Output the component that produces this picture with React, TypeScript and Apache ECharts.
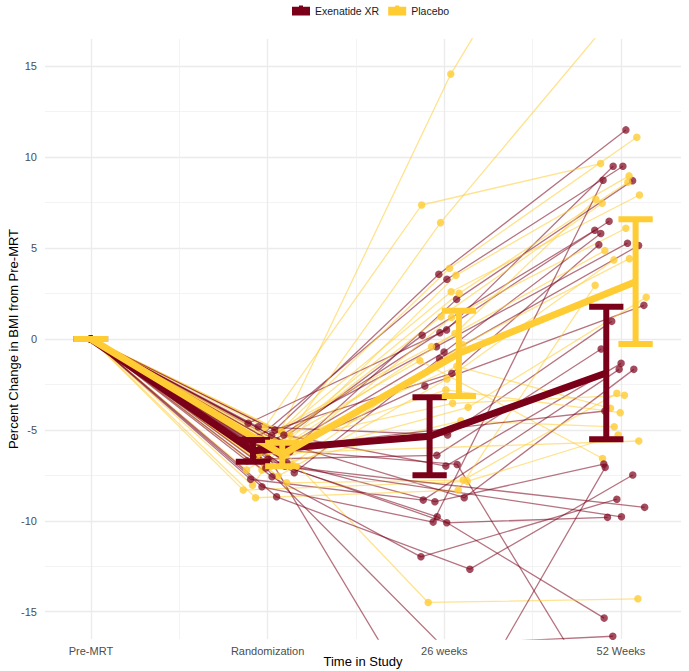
import React, { useEffect, useRef } from "react";
import * as echarts from "echarts";

const FONT = "'Liberation Sans', Arial, Helvetica, sans-serif";
const MAROON = "#7A0019";
const GOLD = "#FFCC33";

const timeLabels = ["Pre-MRT", "Randomization", "26 weeks", "52 Weeks"];
const timePositions = [1, 2, 3, 4];
const minorXPositions = [1.5, 2.5, 3.5];
const yTickValues = [-15, -10, -5, 0, 5, 10, 15];
const yMinorValues = [-12.5, -7.5, -2.5, 2.5, 7.5, 12.5];

// Exenatide XR — individual participants (percent change from Pre-MRT)
const exenRand = [-5.0, -5.8, -6.2, -4.64, -5.9, -6.5, -5.3, -6.0, -7.36, -5.5, -6.3, -4.83, -6.6, -5.28, -6.0, -7.72, -6.8, -5.6, -6.93, -8.13, -6.4, -7.58, -8.68, -7.1, -6.1, -5.9, -7.0, -6.7];
const exenW26 = [3.56, 3.29, 2.18, 0.5, 0.35, 0.2, -0.42, -0.72, -1.08, -1.89, -2.59, -5.28, -6.4, -6.99, -6.9, -8.86, -8.95, -8.73, -9.78, -10.07, -10.11, -11.98, -12.66, -16.8, -22.5, null, null, null];
const exenW52 = [11.5, 9.5, 8.71, 9.5, 6.48, 5.98, 5.27, 5.8, 5.14, 5.19, 1.85, 0.97, -0.55, -1.34, -21.6, -1.67, -6.88, -1.67, -15.35, 8.73, -9.81, -8.81, -7.48, -16.35, -7.06, -3.96, -9.26, -9.78];
// horizontal jitter (axis units) of each participant's point at each visit
const exenRandJitter = [0.041, -0.1, 0.126, -0.11, -0.015, -0.055, 0.023, 0.087, 0.151, -0.128, 0.064, -0.053, 0.002, 0.092, -0.038, -0.096, 0.109, 0.053, 0.07, -0.032, -0.078, 0.025, 0.051, -0.01, -0.018, 0.138, 0.098, -0.117];
const exenW26Jitter = [-0.031, 0.015, 0.07, 0.013, -0.025, -0.125, -0.044, -0.001, -0.027, 0.043, -0.11, 0.019, -0.042, 0.009, 0.073, -0.119, -0.053, 0.113, -0.04, -0.063, 0.014, -0.132, 0.145, -0.02, -0.005, 0, 0, 0];
const exenW52Jitter = [0.028, 0.011, 0.066, -0.044, -0.067, -0.148, 0.037, -0.114, 0.1, -0.125, 0.13, -0.052, -0.112, 0.001, -0.006, -0.01, -0.097, 0.073, -0.095, -0.101, -0.076, -0.023, 0.067, -0.046, -0.089, -0.091, 0.134, 0.003];

// Placebo — individual participants
const placRand = [-7.2, -4.85, -8.04, -5.6, -6.1, -5.1, -6.6, -5.9, -6.4, -7.21, -5.5, -6.9, -5.3, -6.2, -7.54, -6.0, -6.8, -7.91, -8.31, -8.73, -5.65, -5.8, -7.0, -6.3];
const placW26 = [14.57, 7.37, 6.4, 3.89, 3.5, 2.6, 2.51, 1.23, 1.19, 0.3, -0.42, -0.31, -1.19, -1.5, -2.2, -3.54, -3.76, -7.76, -7.83, -8.31, -14.49, -2.8, -4.5, null];
const placW52 = [30, 9.65, 18.5, 11.1, 8.97, 7.92, 8.62, 7.47, 6.09, 7.69, 4.86, 4.42, -6.57, -3.81, 4.35, -3.1, 2.29, -2.99, -5.28, 2.95, -14.29, -4.05, -4.83, -5.61];
const placRandJitter = [-0.032, -0.015, -0.085, 0.013, 0.07, 0.079, -0.061, 0.03, 0.104, -0.119, -0.044, 0.132, 0.126, 0.002, 0.06, -0.1, -0.021, 0.108, -0.138, -0.068, 0.041, 0.092, 0.016, -0.049];
const placW26Jitter = [0.037, -0.128, -0.021, 0.03, 0.066, 0.039, 0.084, -0.019, 0.041, 0.06, -0.072, 0.105, -0.138, 0.071, 0.015, 0.047, 0.135, 0.107, 0.13, 0.079, -0.091, 0.009, 0.094, 0];
const placW52Jitter = [-0.006, -0.115, 0.022, 0.09, 0.046, 0.105, 0.039, -0.106, 0.028, -0.142, -0.091, 0.048, -0.104, -0.059, -0.04, 0.02, 0.143, -0.023, -0.016, -0.146, 0.096, -0.004, -0.038, 0.101];

// Group means and error bars per visit
const exenMean = [0, -6.15, -5.35, -1.87];
const exenLower = [0, -6.75, -7.5, -5.52];
const exenUpper = [0, -5.55, -3.2, 1.77];
const placMean = [0, -6.35, -0.79, 3.15];
const placLower = [0, -7.0, -3.14, -0.28];
const placUpper = [0, -5.7, 1.56, 6.59];

const DODGE = 0.083;
const CAP_HALF = 0.097;

function dodged(i: number, sign: number) {
  return timePositions[i] + (i === 0 ? 0 : sign * DODGE);
}

function subjectSeries(
  name: string,
  color: string,
  rand: (number | null)[],
  w26: (number | null)[],
  w52: (number | null)[],
  jr: number[],
  j26: number[],
  j52: number[],
  lineOpacity: number,
  pointOpacity: number
) {
  return rand.map((r, i) => {
    const pts: number[][] = [[timePositions[0], 0]];
    if (r != null) pts.push([timePositions[1] + jr[i], r]);
    if (w26[i] != null) pts.push([timePositions[2] + j26[i], w26[i] as number]);
    if (w52[i] != null) pts.push([timePositions[3] + j52[i], w52[i] as number]);
    return {
      type: "line",
      name,
      data: pts,
      xAxisIndex: 0,
      yAxisIndex: 0,
      symbol: "circle",
      symbolSize: 7.5,
      showSymbol: true,
      clip: true,
      silent: true,
      z: 2,
      lineStyle: { color, width: 1.3, opacity: lineOpacity },
      itemStyle: { color, opacity: pointOpacity, borderWidth: 0 },
      emphasis: { disabled: true },
    };
  });
}

function errorBarSeries(name: string, color: string, lower: number[], upper: number[], sign: number) {
  return {
    type: "custom",
    name,
    xAxisIndex: 0,
    yAxisIndex: 0,
    silent: true,
    z: 6,
    data: lower.map((lo, i) => [dodged(i, sign), lo, upper[i]]),
    encode: { x: 0, y: [1, 2] },
    renderItem: (params: any, api: any) => {
      const x = api.value(0);
      const lo = api.value(1);
      const hi = api.value(2);
      const pLo = api.coord([x, lo]);
      const pHi = api.coord([x, hi]);
      const lL = api.coord([x - CAP_HALF, lo]);
      const lR = api.coord([x + CAP_HALF, lo]);
      const hL = api.coord([x - CAP_HALF, hi]);
      const hR = api.coord([x + CAP_HALF, hi]);
      const style = { stroke: color, lineWidth: 6, fill: null };
      return {
        type: "group",
        children: [
          { type: "line", shape: { x1: pLo[0], y1: pLo[1], x2: pHi[0], y2: pHi[1] }, style },
          { type: "line", shape: { x1: lL[0], y1: lL[1], x2: lR[0], y2: lR[1] }, style },
          { type: "line", shape: { x1: hL[0], y1: hL[1], x2: hR[0], y2: hR[1] }, style },
        ],
      };
    },
  };
}

function meanSeries(name: string, color: string, mean: number[], sign: number) {
  return {
    type: "line",
    name,
    xAxisIndex: 0,
    yAxisIndex: 0,
    data: mean.map((m, i) => [dodged(i, sign), m]),
    symbol: "none",
    silent: true,
    z: 5,
    lineStyle: { color, width: 7, cap: "butt", join: "miter" },
    itemStyle: { color },
    emphasis: { disabled: true },
  };
}

const LEGEND_ICON = "path://M0,1.2H7V0H11V1.2H18V10H0Z";

function buildOption() {
  const exenInd = subjectSeries("Exenatide XR", MAROON, exenRand, exenW26, exenW52, exenRandJitter, exenW26Jitter, exenW52Jitter, 0.55, 0.7);
  const placInd = subjectSeries("Placebo", GOLD, placRand, placW26, placW52, placRandJitter, placW26Jitter, placW52Jitter, 0.55, 0.8);
  const individuals: any[] = [];
  const n = Math.max(exenInd.length, placInd.length);
  for (let i = 0; i < n; i++) {
    if (exenInd[i]) individuals.push(exenInd[i]);
    if (placInd[i]) individuals.push(placInd[i]);
  }
  const gridLine = { color: "#EBEBEB", width: 1.3 };
  const minorLine = { color: "#F0F0F0", width: 0.8 };
  return {
    animation: false,
    backgroundColor: "#ffffff",
    textStyle: { fontFamily: FONT },
    grid: { left: 45, right: 8, top: 39, bottom: 32, containLabel: false, outerBoundsMode: "none" },
    legend: {
      top: 0,
      left: 287,
      itemWidth: 18,
      itemHeight: 10,
      itemGap: 9,
      selectedMode: false,
      textStyle: { fontFamily: FONT, fontSize: 10.5, color: "#1a1a1a" },
      data: [
        { name: "Exenatide XR", icon: LEGEND_ICON, itemStyle: { color: MAROON, opacity: 1 } },
        { name: "Placebo", icon: LEGEND_ICON, itemStyle: { color: GOLD, opacity: 1 } },
      ],
    },
    xAxis: [
      {
        type: "value",
        min: 0.74,
        max: 4.34,
        position: "bottom",
        axisLine: { show: false },
        axisTick: { show: false, customValues: timePositions },
        axisLabel: {
          customValues: timePositions,
          formatter: (v: number) => timeLabels[Math.round(v) - 1] ?? "",
          color: "#4D4D4D",
          fontSize: 11,
          fontFamily: FONT,
          margin: 6,
        },
        splitLine: { show: true, lineStyle: gridLine },
        name: "Time in Study",
        nameLocation: "middle",
        nameGap: 16,
        nameMoveOverlap: false,
        nameTextStyle: { color: "#000", fontSize: 13, fontFamily: FONT },
      },
      {
        type: "value",
        min: 0.74,
        max: 4.34,
        position: "top",
        axisLine: { show: false },
        axisTick: { show: false, customValues: minorXPositions },
        axisLabel: { show: false, customValues: minorXPositions },
        splitLine: { show: true, lineStyle: minorLine },
      },
    ],
    yAxis: [
      {
        type: "value",
        min: -16.5,
        max: 16.5,
        position: "left",
        axisLine: { show: false },
        axisTick: { show: false, customValues: yTickValues },
        axisLabel: { customValues: yTickValues, color: "#4D4D4D", fontSize: 11, fontFamily: FONT, margin: 8 },
        splitLine: { show: true, lineStyle: gridLine },
        name: "Percent Change in BMI from Pre-MRT",
        nameLocation: "middle",
        nameRotate: 90,
        nameGap: 25,
        nameMoveOverlap: false,
        nameTextStyle: { color: "#000", fontSize: 13, fontFamily: FONT },
      },
      {
        type: "value",
        min: -16.5,
        max: 16.5,
        position: "right",
        axisLine: { show: false },
        axisTick: { show: false, customValues: yMinorValues },
        axisLabel: { show: false, customValues: yMinorValues },
        splitLine: { show: true, lineStyle: minorLine },
      },
    ],
    series: [
      meanSeries("Exenatide XR", MAROON, exenMean, -1),
      meanSeries("Placebo", GOLD, placMean, 1),
      errorBarSeries("Exenatide XR", MAROON, exenLower, exenUpper, -1),
      errorBarSeries("Placebo", GOLD, placLower, placUpper, 1),
      ...individuals,
    ],
  };
}

export default function App() {
  const ref = useRef<HTMLDivElement>(null);
  useEffect(() => {
    if (!ref.current) return;
    const chart = echarts.init(ref.current, null, { renderer: "svg" });
    chart.setOption(buildOption() as any);
    return () => chart.dispose();
  }, []);
  return (
    <div
      ref={ref}
      style={{ position: "fixed", left: 0, top: 0, width: 689, height: 671, background: "#fff" }}
    />
  );
}
